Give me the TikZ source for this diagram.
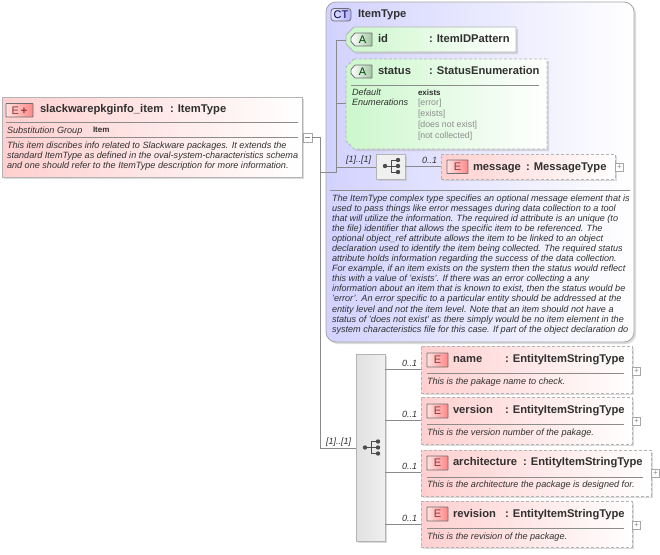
\documentclass[tikz,border=0pt]{standalone}
\usepackage{fontspec}
\setmainfont{Liberation Sans}
\usetikzlibrary{shadows}
\definecolor{conn}{HTML}{8A8A8A}
\definecolor{edge}{HTML}{B4B4B4}
\definecolor{pinkA}{HTML}{FFCFCF}
\definecolor{greenA}{HTML}{CCF7CC}
\definecolor{blueA}{HTML}{D2D2FF}
\definecolor{txt}{HTML}{303030}
\definecolor{bdg}{HTML}{6E6E6E}
\newcommand{\abadge}[3]{%
  \path[draw=bdg,line width=.8pt,left color=white,right color=greenA!80!black,rounded corners=.5pt]
    (#1+4,#2)--(#1+21,#2)--(#1+21,#2+13)--(#1+4,#2+13)--(#1,#2+8.5)--(#1,#2+4.5)--cycle;
  \node[badgetext,text=black!60!green!70!black] (#3) at (#1+11.5,#2+6.5) {A};}
\tikzset{
  x=1pt,y=-1pt,
  shade1/.style={drop shadow={shadow xshift=2pt,shadow yshift=-2pt,fill=black!28,solid}},
  elbox/.style={rectangle,draw=edge,line width=.9pt,left color=pinkA,right color=white,inner sep=0,outer sep=0,anchor=north west,shade1},
  optbox/.style={elbox,dashed,dash pattern=on 3pt off 2pt},
  seqbox/.style={rectangle,draw=edge,line width=.7pt,inner sep=0,outer sep=0,anchor=north west,shade1},
  badgetext/.style={inner sep=0,outer sep=0,font=\fontsize{11}{11}\selectfont},
  ebadge/.style={rectangle,rounded corners=.5pt,draw=bdg,line width=.8pt,inner sep=0,outer sep=0,anchor=north west,font=\fontsize{11}{11}\selectfont,text=red!45!black!80,left color=pinkA!60,right color=red!35!pinkA},
  ctbadge/.style={rectangle,rounded corners=3pt,draw=bdg,line width=.8pt,inner sep=0,outer sep=0,anchor=north west,font=\fontsize{11}{11}\selectfont,text=blue!25!black,left color=white!40!blueA,right color=blueA!85!blue},
  plusbox/.style={rectangle,draw=black!35,line width=.5pt,fill=white,inner sep=0,outer sep=0,minimum width=8pt,minimum height=8pt,anchor=north west,text=black!45,font=\fontsize{8}{8}\selectfont},
  conline/.style={draw=conn,line width=.7pt},
  rulel/.style={draw=black!45,line width=.6pt},
  title/.style={anchor=base west,inner sep=0,outer sep=0,font=\fontsize{11.2}{11.2}\selectfont\bfseries,text=txt},
  small/.style={anchor=base west,inner sep=0,outer sep=0,font=\fontsize{9.1}{9.1}\selectfont\itshape,text=txt},
  occ/.style={anchor=base west,inner sep=0,outer sep=0,font=\fontsize{9}{9}\selectfont\itshape,text=txt},
  enum/.style={anchor=base west,inner sep=0,outer sep=0,font=\fontsize{8.8}{8.8}\selectfont,text=black!45},
  seqicon/.pic={
    \draw[black!70,line width=1pt] (-6,0)--(7,0) (0,-6)--(0,6) (0,-6)--(7,-6) (0,6)--(7,6);
    \fill[black!70] (-6,0) circle (2.2) (7,-6) circle (2.2) (7,0) circle (2.2) (7,6) circle (2.2);
  }
}
\begin{document}
\begin{tikzpicture}
\useasboundingbox (0,0) rectangle (660,554);
% complex type frame
\path[draw=black!35,line width=.8pt,left color=blueA,right color=white,rounded corners=10pt,shade1] (326,2) rectangle (634,342);
\node[ctbadge,minimum width=20pt,minimum height=12.5pt] (ctb) at (331,8.5) {CT};
\node[title] (ctt) at (358,17) {ItemType};
% main element
\node[elbox,minimum width=300pt,minimum height=80pt] (main) at (2,97) {};
\node[ebadge,minimum width=27pt,minimum height=13.5pt] (mainb) at (6,103.5) {E\,\textbf{+}};
\node[title] (maint) at (40,112) {slackwarepkginfo\_item};
\node[title] (maint2) at (170,112) {: ItemType};
\draw[rulel] (6,122.5)--(298,122.5);
\node[small] (subg) at (7,133) {Substitution Group};
\node[small,font=\fontsize{8}{8}\selectfont\bfseries] (subi) at (93,132) {Item};
\draw[rulel] (6,137)--(298,137);
\node[small] (d1) at (7,148) {This item discribes info related to Slackware packages. It extends the};
\node[small] (d2) at (7,158) {standard ItemType as defined in the oval-system-characteristics schema};
\node[small] (d3) at (7,168) {and one should refer to the ItemType description for more information.};
\node[plusbox,minimum height=9pt,minimum width=9pt] (mainc) at (303,133) {};
\draw[black!45,line width=.5pt] (305,137.5)--(310,137.5);
% id attribute
\path[draw=edge,line width=.9pt,left color=greenA,right color=white,shade1] (354,27)--(516,27)--(516,52)--(354,52)--(346,44)--(346,35)--cycle;
\coordinate (idw) at (346,40);
\abadge{351}{33}{idb}
\node[title] (idt) at (378,42) {id};
\node[title] (idt2) at (429,42) {: ItemIDPattern};
% status attribute
\path[draw=edge,line width=.9pt,dash pattern=on 3pt off 2pt,left color=greenA,right color=white,shade1] (354,59)--(547,59)--(547,149)--(354,149)--(346,141)--(346,67)--cycle;
\coordinate (stw) at (346,103);
\abadge{351}{65}{stb}
\node[title] (stt) at (378,74) {status};
\node[title] (stt2) at (429,74) {: StatusEnumeration};
\draw[rulel] (351,85)--(539,85);
\node[small] (de1) at (352,95) {Default};
\node[small] (de2) at (352,105) {Enumerations};
\node[enum,font=\fontsize{8}{8}\selectfont\bfseries,text=txt] (e0) at (418,95) {exists};
\node[enum] (e1) at (418,105) {[error]};
\node[enum] (e2) at (418,116) {[exists]};
\node[enum] (e3) at (418,127) {[does not exist]};
\node[enum] (e4) at (418,138) {[not collected]};
% message
\node[seqbox,minimum width=29pt,minimum height=25pt,fill=black!6] (seq1) at (376,154) {};
\pic at (391,166) {seqicon};
\node[optbox,minimum width=174pt,minimum height=25pt] (msg) at (441,154) {};
\node[ebadge,minimum width=21pt,minimum height=13.5pt] (msgb) at (447,160) {E};
\node[title] (msgt) at (473,170) {message};
\node[title] (msgt2) at (526,170) {: MessageType};
\node[plusbox] (msgp) at (615.5,163) {+};
\node[occ] (o1a) at (346,162) {[1]..[1]};
\node[occ] (o1b) at (422,163) {0..1};
% description of complex type
\draw[rulel] (330,190)--(630,190);
\foreach \n/\yy/\t in {
a/201/{The ItemType complex type specifies an optional message element that is},
b/211/{used to pass things like error messages during data collection to a tool},
c/221/{that will utilize the information. The required id attribute is an unique (to},
d/231/{the file) identifier that allows the specific item to be referenced. The},
e/241/{optional object\_ref attribute allows the item to be linked to an object},
f/251.2/{declaration used to identify the item being collected. The required status},
g/261.3/{attribute holds information regarding the success of the data collection.},
h/271.4/{For example, if an item exists on the system then the status would reflect},
i/281.5/{this with a value of 'exists'. If there was an error collecting a any},
j/291.6/{information about an item that is known to exist, then the status would be},
k/301.8/{'error'. An error specific to a particular entity should be addressed at the},
l/312/{entity level and not the item level. Note that an item should not have a},
m/322/{status of 'does not exist' as there simply would be no item element in the},
n/332/{system characteristics file for this case. If part of the object declaration do}}
  {\node[small] (ct\n) at (332,\yy) {\t};}
% lower sequence
\node[seqbox,minimum width=29pt,minimum height=187pt,left color=black!12,right color=black!6] (seq2) at (356,354) {};
\pic at (371,447.5) {seqicon};
\node[occ] (o2) at (326,444) {[1]..[1]};
% name
\node[optbox,minimum width=211pt,minimum height=47pt] (nm) at (421,346) {};
\node[ebadge,minimum width=21pt,minimum height=14pt] (nmb) at (427,353) {E};
\node[title] (nmt) at (453,362) {name};
\node[title] (nmt2) at (505,362) {: EntityItemStringType};
\draw[rulel] (427,373)--(624,373);
\node[small] (nmd) at (427,384) {This is the pakage name to check.};
\node[plusbox] (nmp) at (632.5,367) {+};
\node[occ] (onm) at (402,366) {0..1};
% version
\node[optbox,minimum width=211pt,minimum height=47pt] (vr) at (421,397) {};
\node[ebadge,minimum width=21pt,minimum height=14pt] (vrb) at (427,404) {E};
\node[title] (vrt) at (453,413) {version};
\node[title] (vrt2) at (505,413) {: EntityItemStringType};
\draw[rulel] (427,424)--(624,424);
\node[small] (vrd) at (427,435) {This is the version number of the pakage.};
\node[plusbox] (vrp) at (632.5,417) {+};
\node[occ] (ovr) at (402,417) {0..1};
% architecture
\node[optbox,minimum width=230pt,minimum height=46pt] (ar) at (421,450) {};
\node[ebadge,minimum width=21pt,minimum height=14pt] (arb) at (427,456) {E};
\node[title] (art) at (453,465) {architecture};
\node[title] (art2) at (523,465) {: EntityItemStringType};
\draw[rulel] (427,477)--(643,477);
\node[small] (ard) at (427,487) {This is the architecture the package is designed for.};
\node[plusbox] (arp) at (651.5,469) {+};
\node[occ] (oar) at (402,469) {0..1};
% revision
\node[optbox,minimum width=211pt,minimum height=46pt] (rv) at (421,501) {};
\node[ebadge,minimum width=21pt,minimum height=14pt] (rvb) at (427,507) {E};
\node[title] (rvt) at (453,517) {revision};
\node[title] (rvt2) at (505,517) {: EntityItemStringType};
\draw[rulel] (427,528)--(624,528);
\node[small] (rvd) at (427,539) {This is the revision of the package.};
\node[plusbox] (rvp) at (632.5,521) {+};
\node[occ] (orv) at (402,521) {0..1};
% connectors
\coordinate (j1) at (320,137.5);
\coordinate (j2) at (320,172);
\coordinate (j3) at (320,448);
\coordinate (k1) at (336,40);
\coordinate (k2) at (336,103);
\coordinate (k3) at (336,167);
\draw[conline] (mainc.east)--(j1)--(j3)--(seq2.west |- j3);
\draw[conline] (j2)--(336,172)--(k1)--(idw);
\draw[conline] (k2)--(stw);
\draw[conline] (k3)--(seq1.west |- k3);
\draw[conline] (seq1.east |- 0,166)--(msg.west |- 0,166);
\draw[conline] (seq2.east |- 0,369)--(nm.west |- 0,369);
\draw[conline] (seq2.east |- 0,420)--(vr.west |- 0,420);
\draw[conline] (seq2.east |- 0,472)--(ar.west |- 0,472);
\draw[conline] (seq2.east |- 0,524)--(rv.west |- 0,524);
\end{tikzpicture}
\end{document}
